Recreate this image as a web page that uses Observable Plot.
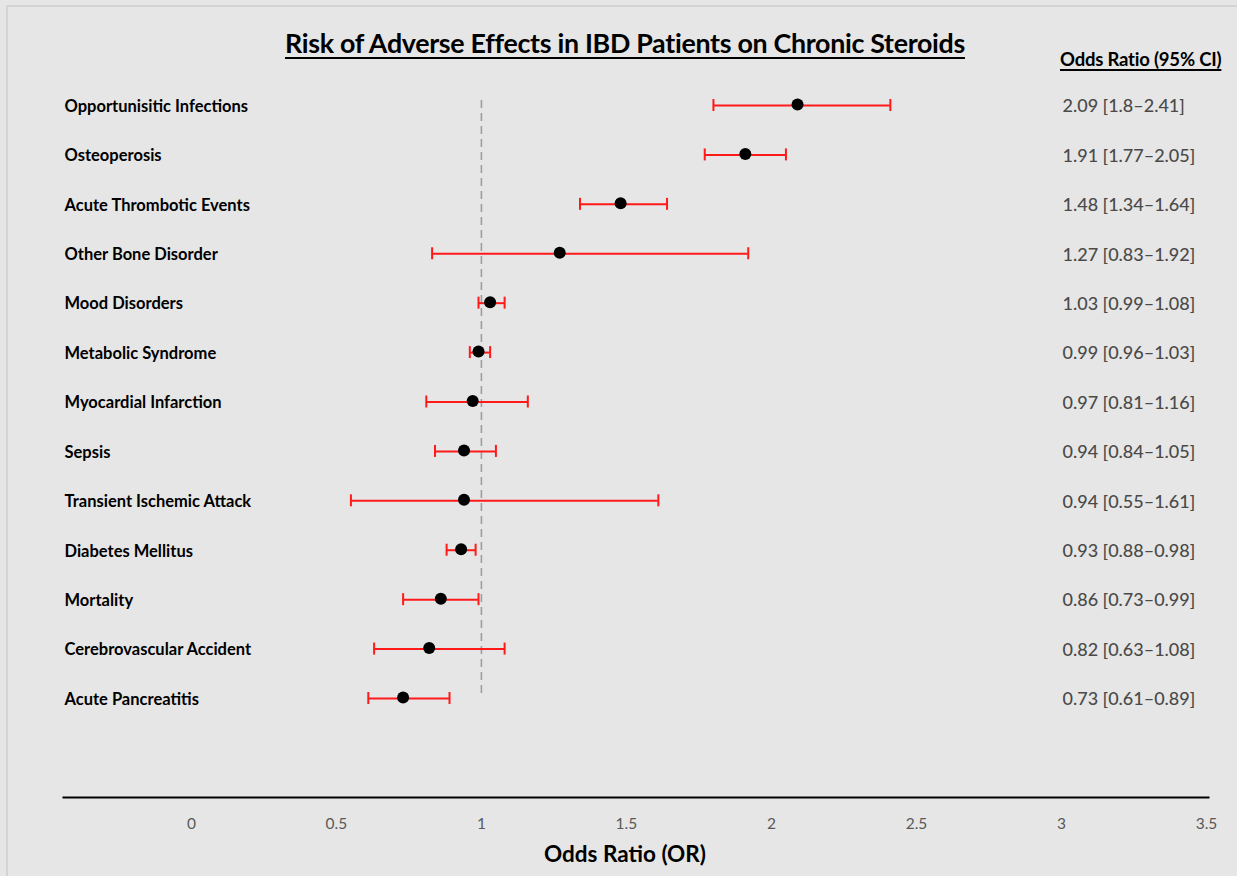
<!DOCTYPE html>
<html>
<head>
<meta charset="utf-8">
<script src="https://cdn.jsdelivr.net/npm/d3@7"></script>
<script src="https://cdn.jsdelivr.net/npm/@observablehq/plot@0.6"></script>
<style>
  html, body { margin: 0; padding: 0; background: #e6e6e6; }
  #wrap { position: relative; width: 1237px; height: 876px; background: #e6e6e6; overflow: hidden; font-family: Lato, "Open Sans", sans-serif; }
  #edge { position: absolute; left: 6px; top: 5px; right: 0; bottom: 0; border-left: 2px solid #d4d4d4; border-top: 2px solid #d4d4d4; }
  #title { position: absolute; left: 0; width: 1250px; top: 27px; text-align: center; font-weight: 700; font-size: 26.8px; color: #000; text-decoration: underline; text-underline-offset: 4px; text-decoration-thickness: 2px; letter-spacing: -0.3px; }
  #hdr { position: absolute; left: 1060px; top: 48px; font-weight: 700; font-size: 18.5px; color: #000; text-decoration: underline; text-underline-offset: 3px; text-decoration-thickness: 2px; letter-spacing: -0.2px; }
  #xlab { position: absolute; left: 0; width: 1250px; top: 840px; text-align: center; font-weight: 700; font-size: 22.5px; color: #000; }
  #chart { position: absolute; left: 0; top: 0; }
</style>
</head>
<body>
<div id="wrap">
  <div id="edge"></div>
  <div id="chart"></div>
  <div id="title">Risk of Adverse Effects in IBD Patients on Chronic Steroids</div>
  <div id="hdr">Odds Ratio (95% CI)</div>
  <div id="xlab">Odds Ratio (OR)</div>
</div>
<script>
const outcomes = [
  "Opportunisitic Infections",
  "Osteoperosis",
  "Acute Thrombotic Events",
  "Other Bone Disorder",
  "Mood Disorders",
  "Metabolic Syndrome",
  "Myocardial Infarction",
  "Sepsis",
  "Transient Ischemic Attack",
  "Diabetes Mellitus",
  "Mortality",
  "Cerebrovascular Accident",
  "Acute Pancreatitis"
];
const oddsRatio = [2.09, 1.91, 1.48, 1.27, 1.03, 0.99, 0.97, 0.94, 0.94, 0.93, 0.86, 0.82, 0.73];
const ciLow     = [1.8, 1.77, 1.34, 0.83, 0.99, 0.96, 0.81, 0.84, 0.55, 0.88, 0.73, 0.63, 0.61];
const ciHigh    = [2.41, 2.05, 1.64, 1.92, 1.08, 1.03, 1.16, 1.05, 1.61, 0.98, 0.99, 1.08, 0.89];
const xTicks = [0, 0.5, 1, 1.5, 2, 2.5, 3, 3.5];
const refLine = [1];

const rows = outcomes.map((name, i) => ({
  name, or: oddsRatio[i], lo: ciLow[i], hi: ciHigh[i],
  label: `${oddsRatio[i]} [${ciLow[i]}–${ciHigh[i]}]`
}));

const W = 1237, H = 876;
const plot = Plot.plot({
  width: W,
  height: H,
  marginLeft: 63,
  marginRight: 29,
  marginTop: 100,
  marginBottom: 79,
  style: { background: "transparent", fontFamily: "Lato, 'Open Sans', sans-serif", overflow: "visible" },
  x: { domain: [-0.441, 3.507] },
  y: { type: "band", domain: outcomes, range: [80.3, 722.7], padding: 0, round: false, axis: null },
  marks: [
    Plot.frame({ anchor: "bottom", stroke: "#000", strokeWidth: 2 }),
    Plot.axisX(xTicks, { tickSize: 0, tickPadding: 20, fontSize: 15.5, fill: "#595959", label: null, tickFormat: d => String(d) }),
    Plot.ruleX(refLine, { stroke: "#9e9e9e", strokeWidth: 1.6, strokeDasharray: "8,5", insetBottom: 100 }),
    Plot.ruleY(rows, { y: "name", x1: "lo", x2: "hi", stroke: "#ff1a1a", strokeWidth: 2 }),
    Plot.tickX(rows, { x: "lo", y: "name", stroke: "#ff1a1a", strokeWidth: 2, insetTop: 18.7, insetBottom: 18.7 }),
    Plot.tickX(rows, { x: "hi", y: "name", stroke: "#ff1a1a", strokeWidth: 2, insetTop: 18.7, insetBottom: 18.7 }),
    Plot.dot(rows, { x: "or", y: "name", r: 6, fill: "#000", stroke: "none", dy: -1 }),
    Plot.text(rows, { y: "name", text: "name", frameAnchor: "left", textAnchor: "start", dx: 1, dy: 1, fontSize: 16.5, fontWeight: 700, fill: "#000" }),
    Plot.text(rows, { y: "name", text: "label", frameAnchor: "right", textAnchor: "start", dx: -146, dy: 1, fontSize: 18, fontWeight: 500, fill: "#4a4a4a", style: "letter-spacing:0.6px" })
  ]
});
document.getElementById("chart").appendChild(plot);
</script>
</body>
</html>
